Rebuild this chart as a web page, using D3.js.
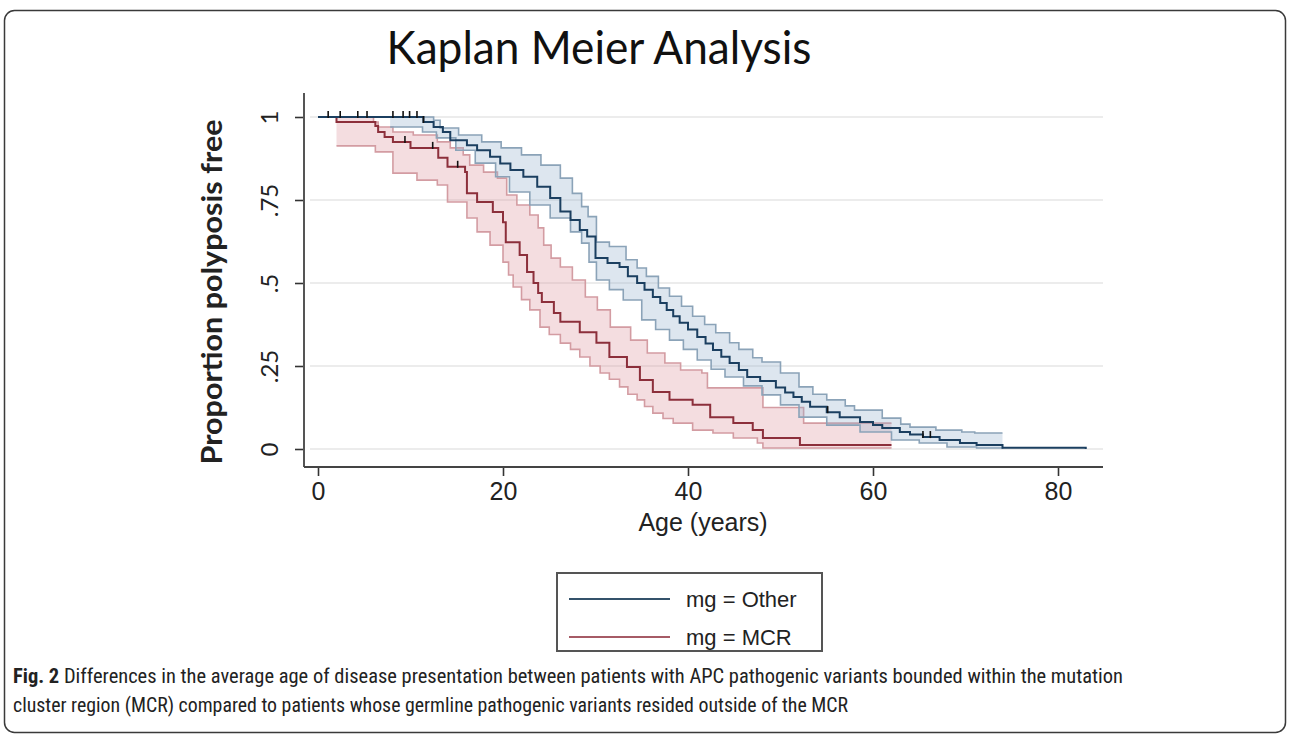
<!DOCTYPE html>
<html>
<head>
<meta charset="utf-8">
<script src="https://cdn.jsdelivr.net/npm/d3@7"></script>
<style>
  body { margin: 0; background: #fff; }
</style>
</head>
<body>
<svg id="chart" width="1290" height="736"></svg>
<script>
// Kaplan-Meier estimates: [age, proportion]
const otherKM = [[0,1],[11.4,0.985],[12.5,0.97],[13.5,0.955],[14.3,0.93],[16.1,0.915],[17.2,0.9],[18.6,0.88],[19.7,0.86],[20.8,0.84],[22.2,0.82],[23.7,0.79],[25.1,0.756],[26.2,0.715],[27.3,0.69],[28.3,0.66],[29.1,0.64],[30,0.575],[31.3,0.56],[32.6,0.548],[33.5,0.52],[34.5,0.5],[35.3,0.48],[36.2,0.458],[37,0.44],[37.7,0.419],[38.4,0.4],[39.1,0.38],[40,0.36],[41,0.337],[41.9,0.318],[42.7,0.298],[43.6,0.278],[44.5,0.259],[45.5,0.238],[46.4,0.217],[47.8,0.205],[49.5,0.185],[50.5,0.17],[51.4,0.157],[52.3,0.142],[53.2,0.127],[55,0.111],[56.4,0.096],[58.6,0.081],[60,0.072],[61,0.063],[62.9,0.051],[64,0.044],[65.4,0.036],[67.2,0.027],[69.4,0.018],[71.2,0.012],[74,0.004],[83,0]];
const otherUpper = [[7.8,1],[12.5,0.99],[13.2,0.967],[15.2,0.946],[17.7,0.925],[19.8,0.907],[22,0.886],[24.1,0.855],[26.2,0.816],[27.5,0.77],[28.5,0.73],[29.2,0.7],[30.1,0.623],[31.5,0.61],[33.3,0.57],[34.5,0.545],[35.5,0.52],[36.8,0.485],[38,0.46],[39.3,0.43],[40.5,0.4],[41.8,0.375],[43,0.35],[44.5,0.32],[45.5,0.3],[47,0.275],[48,0.262],[50,0.229],[52,0.187],[53.5,0.165],[55,0.148],[57,0.13],[58,0.117],[61,0.093],[63,0.075],[64,0.066],[66.8,0.057],[69.6,0.051],[71,0.048],[74,0.048]];
const otherLower = [[7.8,0.97],[11.3,0.955],[12.8,0.937],[14.9,0.9],[17,0.861],[19.2,0.82],[20.7,0.774],[22.9,0.735],[25.1,0.696],[27.3,0.654],[28.5,0.62],[29.3,0.563],[30.1,0.509],[31.5,0.48],[33,0.449],[35,0.389],[36.5,0.36],[38,0.328],[39.5,0.3],[41,0.268],[42.5,0.24],[44,0.217],[46,0.19],[48,0.163],[50,0.133],[52,0.096],[55,0.072],[58.6,0.051],[62,0.027],[65,0.018],[68,0.006],[71.2,0.003],[74,0]];

const mcrKM = [[0,1],[2,0.985],[6.2,0.973],[6.5,0.955],[7.2,0.94],[8.1,0.925],[10,0.907],[13,0.877],[14,0.85],[15.9,0.834],[16.1,0.77],[17.2,0.744],[18.9,0.714],[20,0.683],[20.3,0.623],[21.8,0.584],[22.6,0.533],[23.3,0.5],[23.8,0.47],[24.2,0.443],[25.5,0.41],[26.2,0.383],[28.3,0.352],[30.1,0.32],[31.5,0.277],[33.4,0.247],[34.8,0.208],[36.2,0.172],[38,0.148],[40.5,0.133],[42.4,0.096],[44.9,0.078],[47,0.057],[48.1,0.033],[52.1,0.012],[62,0.012]];
const mcrUpper = [[2,1],[6,0.985],[6.5,0.97],[8.1,0.955],[10.3,0.946],[12.9,0.925],[14.3,0.907],[15.7,0.886],[16.4,0.855],[17.9,0.834],[19.4,0.816],[20.4,0.765],[21.5,0.735],[22.9,0.705],[23.8,0.666],[24.4,0.614],[25.2,0.575],[26.2,0.548],[27.5,0.509],[28.9,0.458],[30.2,0.419],[31.6,0.367],[33.8,0.328],[35.6,0.289],[37.5,0.259],[39.2,0.238],[41.5,0.229],[42.1,0.184],[48.1,0.125],[52.5,0.078],[62,0.078]];
const mcrLower = [[2,0.913],[6.2,0.895],[8.1,0.831],[10.7,0.81],[12.9,0.795],[14,0.744],[16.1,0.696],[17.2,0.654],[18.6,0.614],[20,0.563],[20.6,0.524],[21.1,0.488],[22,0.45],[22.9,0.419],[24,0.367],[25,0.345],[26.2,0.319],[27.3,0.3],[28.3,0.277],[29.4,0.25],[30.5,0.229],[31.5,0.21],[32.6,0.187],[33.5,0.165],[34.5,0.148],[35.3,0.128],[36.2,0.108],[37.3,0.092],[38.4,0.078],[40.5,0.057],[42.7,0.048],[44.9,0.033],[47.5,0.018],[48.1,0.003],[62,0.003]];

// censored observations (ages)
const censorOther = [1.1, 2.4, 4.3, 5.3, 8.1, 9.2, 9.9, 10.7, 11.4, 55.1, 65.4, 66.2];
const censorMCR = [9.4, 12.4, 15.1];

const xTicks = [0, 20, 40, 60, 80];
const yTicks = [0, 0.25, 0.5, 0.75, 1];
const yTickLabels = ["0", ".25", ".5", ".75", "1"];
const legendLabels = ["mg = Other", "mg = MCR"];
const captionLines = [
  "Differences in the average age of disease presentation between patients with APC pathogenic variants bounded within the mutation",
  "cluster region (MCR) compared to patients whose germline pathogenic variants resided outside of the MCR"
];

const svg = d3.select("#chart");

// outer frame
svg.append("rect")
  .attr("x", 4.5).attr("y", 10.5)
  .attr("width", 1281).attr("height", 722)
  .attr("rx", 10)
  .attr("fill", "none")
  .attr("stroke", "#3a3a3a")
  .attr("stroke-width", 1.5);

const x = d3.scaleLinear().domain([0, 80]).range([318, 1058]);
const y = d3.scaleLinear().domain([0, 1]).range([449, 117]);

// plot region bounds
const plotLeft = 304, plotRight = 1103, plotTop = 93, plotBottom = 467;

// gridlines
svg.append("g")
  .selectAll("line")
  .data(yTicks)
  .enter()
  .append("line")
  .attr("x1", plotLeft + 6).attr("x2", plotRight)
  .attr("y1", d => y(d)).attr("y2", d => y(d))
  .attr("stroke", "#e6e6e6")
  .attr("stroke-width", 1.5);

// turn a step function into polyline vertices
function steps(arr) {
  const pts = [];
  arr.forEach((d, i) => {
    if (i > 0) pts.push([d[0], arr[i - 1][1]]);
    pts.push(d);
  });
  return pts;
}

function stepAt(arr, t) {
  let v = arr[0][1];
  arr.forEach(d => { if (d[0] <= t) v = d[1]; });
  return v;
}

const line = d3.line().x(d => x(d[0])).y(d => y(d[1]));

// confidence bands
function band(upper, lower, fill, stroke) {
  const poly = steps(upper).concat(steps(lower).reverse());
  svg.append("path")
    .attr("d", line(poly) + "Z")
    .attr("fill", fill)
    .attr("stroke", "none");
  [upper, lower].forEach(b => {
    svg.append("path")
      .attr("d", line(steps(b)))
      .attr("fill", "none")
      .attr("stroke", stroke)
      .attr("stroke-width", 1.6);
  });
}

band(mcrUpper, mcrLower, "rgba(222,150,158,0.32)", "#d39ca2");
band(otherUpper, otherLower, "rgba(150,178,205,0.32)", "#8ba3b8");

// survival curves
svg.append("path")
  .attr("d", line(steps(mcrKM)))
  .attr("fill", "none")
  .attr("stroke", "#8c2f3b")
  .attr("stroke-width", 2);

svg.append("path")
  .attr("d", line(steps(otherKM)))
  .attr("fill", "none")
  .attr("stroke", "#1b3f60")
  .attr("stroke-width", 2);

// censor ticks
function ticks(ages, km) {
  svg.append("g")
    .selectAll("line")
    .data(ages)
    .enter()
    .append("line")
    .attr("x1", d => x(d)).attr("x2", d => x(d))
    .attr("y1", d => y(stepAt(km, d)) - 6)
    .attr("y2", d => y(stepAt(km, d)) + 1)
    .attr("stroke", "#111")
    .attr("stroke-width", 1.6);
}
ticks(censorOther, otherKM);
ticks(censorMCR, mcrKM);

// axes
const yAxis = svg.append("g")
  .attr("transform", `translate(${plotLeft},0)`)
  .call(d3.axisLeft(y).tickValues(yTicks).tickSize(9).tickPadding(0).tickFormat((d, i) => yTickLabels[i]));
yAxis.select(".domain").remove();
yAxis.selectAll(".tick line").attr("stroke", "#333").attr("stroke-width", 1.6);
yAxis.selectAll(".tick text")
  .attr("x", 0).attr("dy", null)
  .attr("transform", "translate(-26,0) rotate(-90)")
  .attr("text-anchor", "middle")
  .attr("font-family", "Lato, 'Open Sans', sans-serif")
  .attr("font-size", 24)
  .attr("fill", "#222");

const xAxis = svg.append("g")
  .attr("transform", `translate(0,${plotBottom})`)
  .call(d3.axisBottom(x).tickValues(xTicks).tickSize(9).tickPadding(6));
xAxis.select(".domain").remove();
xAxis.selectAll(".tick line").attr("stroke", "#333").attr("stroke-width", 1.6);
xAxis.selectAll(".tick text")
  .attr("font-family", "'Liberation Sans', Arial, sans-serif")
  .attr("font-size", 25)
  .attr("fill", "#222");

svg.append("line")
  .attr("x1", plotLeft).attr("x2", plotLeft).attr("y1", plotTop).attr("y2", plotBottom)
  .attr("stroke", "#555").attr("stroke-width", 2);
svg.append("line")
  .attr("x1", plotLeft).attr("x2", plotRight).attr("y1", plotBottom).attr("y2", plotBottom)
  .attr("stroke", "#444").attr("stroke-width", 2);

// titles
svg.append("text")
  .attr("x", 599).attr("y", 64)
  .attr("text-anchor", "middle")
  .attr("font-family", "Lato, 'Open Sans', sans-serif")
  .attr("font-size", 46)
  .attr("textLength", 425)
  .attr("lengthAdjust", "spacingAndGlyphs")
  .attr("fill", "#111")
  .text("Kaplan Meier Analysis");

svg.append("text")
  .attr("transform", "translate(222,292) rotate(-90)")
  .attr("text-anchor", "middle")
  .attr("font-family", "Lato, 'Open Sans', sans-serif")
  .attr("font-weight", "bold")
  .attr("font-size", 28)
  .attr("textLength", 345)
  .attr("lengthAdjust", "spacingAndGlyphs")
  .attr("fill", "#222")
  .text("Proportion polyposis free");

svg.append("text")
  .attr("x", 703).attr("y", 531)
  .attr("text-anchor", "middle")
  .attr("font-family", "'Liberation Sans', Arial, sans-serif")
  .attr("font-size", 25)
  .attr("fill", "#222")
  .text("Age (years)");

// legend
svg.append("rect")
  .attr("x", 557).attr("y", 573)
  .attr("width", 265).attr("height", 78)
  .attr("fill", "#fff")
  .attr("stroke", "#555")
  .attr("stroke-width", 2);

const legendColors = ["#34526b", "#a65b66"];
legendLabels.forEach((lab, i) => {
  const ly = 599 + i * 38;
  svg.append("line")
    .attr("x1", 569).attr("x2", 670).attr("y1", ly).attr("y2", ly)
    .attr("stroke", legendColors[i]).attr("stroke-width", 2.2);
  svg.append("text")
    .attr("x", 686).attr("y", ly + 8)
    .attr("font-family", "'Liberation Sans', Arial, sans-serif")
    .attr("font-size", 22)
    .attr("fill", "#222")
    .text(lab);
});

// caption
const capFont = "'Roboto Condensed', 'Liberation Sans Narrow', Roboto, sans-serif";
const cap1 = svg.append("text")
  .attr("x", 13).attr("y", 683)
  .attr("font-family", capFont)
  .attr("font-size", 21)
  .attr("fill", "#222")
  .attr("textLength", 1110)
  .attr("lengthAdjust", "spacingAndGlyphs");
cap1.append("tspan").attr("font-weight", "bold").text("Fig. 2");
cap1.append("tspan").text(" " + captionLines[0]);

svg.append("text")
  .attr("x", 13).attr("y", 712)
  .attr("font-family", capFont)
  .attr("font-size", 21)
  .attr("fill", "#222")
  .attr("textLength", 835)
  .attr("lengthAdjust", "spacingAndGlyphs")
  .text(captionLines[1]);
</script>
</body>
</html>
